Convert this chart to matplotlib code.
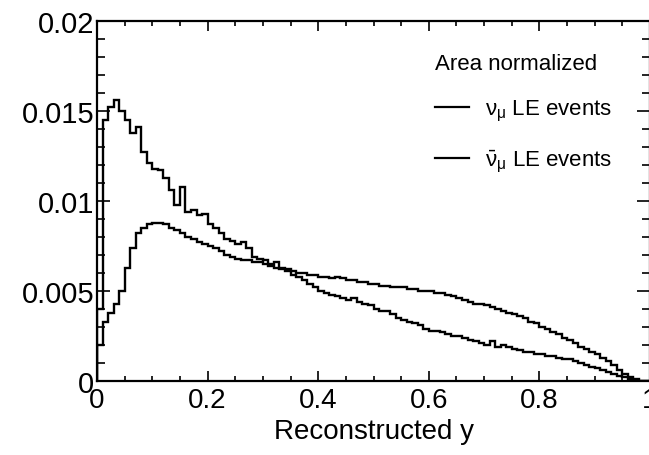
import numpy as np
import matplotlib
matplotlib.use("Agg")
import matplotlib.pyplot as plt
from matplotlib.ticker import MultipleLocator
from matplotlib.lines import Line2D

plt.rcParams['font.family'] = ['Liberation Sans', 'DejaVu Sans']
plt.rcParams['mathtext.fontset'] = 'custom'
plt.rcParams['mathtext.rm'] = 'Liberation Sans'
plt.rcParams['mathtext.it'] = 'Liberation Sans'

# histogram binning: 100 bins over reconstructed y in [0, 1]
bin_edges = np.linspace(0, 1, 101)

# nu_mu LE events (area normalized)
numu = [0.0040, 0.0145, 0.0152, 0.0156, 0.0150, 0.0145, 0.0138, 0.0141, 0.0127, 0.0121,
        0.0118, 0.0117, 0.0113, 0.0106, 0.0098, 0.0108, 0.0094, 0.0095, 0.0092, 0.0093,
        0.0087, 0.0085, 0.0082, 0.0079, 0.0078, 0.0076, 0.0077, 0.0074, 0.0069, 0.0068,
        0.0067, 0.0065, 0.0066, 0.0063, 0.0061, 0.0059, 0.0058, 0.0056, 0.0054, 0.0052,
        0.0050, 0.0049, 0.0048, 0.0047, 0.0046, 0.0045, 0.0046, 0.0044, 0.0043, 0.0042,
        0.0040, 0.0039, 0.0039, 0.0037, 0.0035, 0.0034, 0.0033, 0.0032, 0.0031, 0.0029,
        0.0028, 0.0028, 0.0027, 0.0026, 0.0025, 0.0025, 0.0024, 0.0023, 0.0022, 0.0021,
        0.0020, 0.0022, 0.0019, 0.0020, 0.0019, 0.0018, 0.0017, 0.0016, 0.0016, 0.0015,
        0.0015, 0.0014, 0.0014, 0.0013, 0.0012, 0.0012, 0.0011, 0.0010, 0.0009, 0.0008,
        0.0007, 0.0006, 0.0005, 0.0004, 0.0003, 0.0002, 0.0001, 0.0, 0.0, 0.0]

# anti nu_mu LE events
numubar = [0.0020, 0.0033, 0.0038, 0.0043, 0.0050, 0.0063, 0.0074, 0.0082, 0.0085, 0.0087,
           0.0088, 0.0088, 0.0087, 0.0085, 0.0084, 0.0082, 0.0080, 0.0079, 0.0077, 0.0076,
           0.0075, 0.0074, 0.0072, 0.0070, 0.0069, 0.0068, 0.0067, 0.0067, 0.0066, 0.0066,
           0.0065, 0.0064, 0.0063, 0.0062, 0.0062, 0.0061, 0.0060, 0.0060, 0.0059, 0.0059,
           0.0058, 0.0058, 0.0057, 0.0058, 0.0057, 0.0056, 0.0056, 0.0055, 0.0055, 0.0054,
           0.0054, 0.0053, 0.0053, 0.0052, 0.0052, 0.0052, 0.0051, 0.0051, 0.0050, 0.0050,
           0.0050, 0.0049, 0.0049, 0.0048, 0.0047, 0.0046, 0.0045, 0.0044, 0.0043, 0.0043,
           0.0042, 0.0041, 0.0040, 0.0039, 0.0038, 0.0037, 0.0036, 0.0035, 0.0033, 0.0032,
           0.0030, 0.0029, 0.0027, 0.0026, 0.0024, 0.0023, 0.0021, 0.0019, 0.0018, 0.0016,
           0.0015, 0.0013, 0.0011, 0.0009, 0.0006, 0.0004, 0.0002, 0.0001, 0.0, 0.0]

labels = [r'$\nu_{\mu}$ LE events', r'$\bar{\nu}_{\mu}$ LE events']

fig = plt.figure(figsize=(6.49, 4.56), dpi=100)
ax = fig.add_axes([97/649, 74/456, 553/649, 360/456])

ax.stairs(numu, bin_edges, color='black', lw=1.7)
ax.stairs(numubar, bin_edges, color='black', lw=1.7)

ax.set_xlim(0, 1)
ax.set_ylim(0, 0.02)
ax.xaxis.set_major_locator(MultipleLocator(0.2))
ax.xaxis.set_minor_locator(MultipleLocator(0.05))
ax.yaxis.set_major_locator(MultipleLocator(0.005))
ax.yaxis.set_minor_locator(MultipleLocator(0.001))
ax.set_xticklabels(['%g' % t for t in ax.get_xticks()])
ax.set_yticklabels(['%g' % t for t in ax.get_yticks()])

ax.tick_params(which='both', direction='in', top=True, right=True, width=1.2)
ax.tick_params(axis='x', which='major', length=7, labelsize=20, pad=4)
ax.tick_params(axis='x', which='minor', length=3.5)
ax.tick_params(axis='y', which='major', length=9.5, labelsize=21, pad=2)
ax.tick_params(axis='y', which='minor', length=5.5)
for s in ax.spines.values():
    s.set_linewidth(1.6)

ax.set_xlabel('Reconstructed y', fontsize=20, labelpad=4)

handles = [Line2D([], [], color='black', lw=1.6), Line2D([], [], color='black', lw=1.6)]
leg = ax.legend(handles, labels, title='Area normalized', loc='upper left',
                bbox_to_anchor=(0.612, 0.912), frameon=False, fontsize=16,
                title_fontsize=16, handlelength=1.5, handletextpad=0.75,
                labelspacing=1.1, borderpad=0, borderaxespad=0)
leg._legend_box.align = 'left'

fig.savefig('out.png', dpi=100)
